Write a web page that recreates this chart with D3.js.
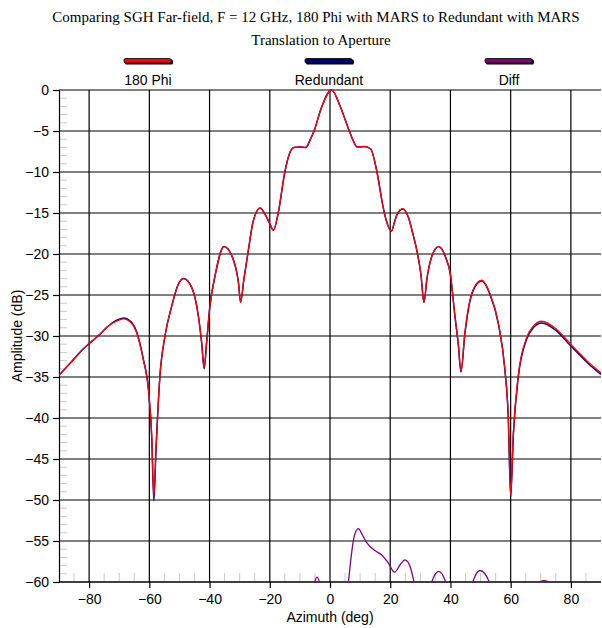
<!DOCTYPE html>
<html>
<head>
<meta charset="utf-8">
<script src="https://cdn.jsdelivr.net/npm/d3@7"></script>
<style>
  body { margin: 0; background: #fff; }
  text { font-family: "Liberation Sans", Arial, sans-serif; }
  .title { font-family: "Liberation Serif", "Times New Roman", serif; }
</style>
</head>
<body>
<div id="vis"></div>
<script>
const svgWidth = 602,
  svgHeight = 628,
  plotLeft = 59,
  plotRight = 601,
  plotTop = 90,
  plotBottom = 582;

// series, [azimuth deg, amplitude dB]
const phi180 = [
  [-90, -34.8], [-86, -33.2], [-82, -31.6], [-78, -30.3], [-76.4, -29.8], [-74, -28.9],
  [-71, -28.2], [-68.6, -27.9], [-66, -28.4], [-64.2, -29.6], [-62, -32.9], [-60.3, -36.5],
  [-59.2, -42.2], [-58.5, -49.6], [-57.8, -43.9], [-56.5, -34.9], [-54.8, -30], [-52.6, -26.4],
  [-50.5, -23.8], [-48.7, -23.0], [-45.9, -24.1], [-43.7, -27.6], [-42.6, -30.9], [-41.8, -33.9],
  [-41, -30.9], [-39.9, -26.4], [-38.2, -22.7], [-35.2, -19.1], [-32.1, -20.7], [-30.4, -23.5],
  [-29.7, -25.9], [-28.6, -23.1], [-27.1, -19.5], [-25.5, -16], [-23.2, -14.4], [-21.5, -15.2],
  [-20, -16.3], [-18.8, -17.1], [-17.2, -15], [-15, -10], [-13.5, -7.8], [-12, -7.0],
  [-10, -6.95], [-8, -7.0], [-6.5, -6.0], [-5.3, -5], [-2.8, -2.1], [0.5, 0],
  [3.5, -2.1], [6.4, -5], [7.5, -6.0], [9, -6.95], [11.5, -6.9], [13.5, -7.2],
  [15.6, -10], [17.5, -14], [18.6, -15.8], [20.4, -17.2], [21.5, -16], [22.5, -15],
  [24.2, -14.5], [26, -15.5], [27.5, -17.5], [28.8, -19.5], [30.2, -22.5], [31.2, -25.9],
  [32.2, -23], [33.8, -20.3], [36.1, -19.1], [38.5, -20.5], [39.9, -22.3], [41.5, -27.6],
  [42.6, -31], [43.5, -34.3], [44.8, -29.6], [46.5, -25.6], [48, -24], [50.4, -23.2],
  [53.1, -24.8], [55.9, -28.4], [58.1, -34.1], [59.2, -39.8], [60, -49.4], [60.9, -41.8],
  [62.5, -34.9], [65.3, -30.2], [67.5, -28.8], [70.3, -28.2], [75.3, -29.2], [79.7, -30.9],
  [85.3, -33], [90, -34.5]
];

const redundant = [
  [-90, -34.8], [-86, -33.2], [-82, -31.6], [-78, -30.3], [-76.4, -29.8], [-74, -28.9],
  [-71, -28.1], [-68.6, -27.8], [-66, -28.3], [-64.2, -29.5], [-62, -32.8], [-60.3, -36.5],
  [-59.2, -42.4], [-58.5, -50.1], [-57.8, -44], [-56.5, -35], [-54.8, -30], [-52.6, -26.4],
  [-50.5, -23.8], [-48.7, -23.0], [-45.9, -24.1], [-43.7, -27.6], [-42.6, -30.9], [-41.8, -34.0],
  [-41, -30.9], [-39.9, -26.4], [-38.2, -22.7], [-35.2, -19.1], [-32.1, -20.7], [-30.4, -23.5],
  [-29.7, -25.9], [-28.6, -23.1], [-27.1, -19.5], [-25.5, -16], [-23.2, -14.4], [-21.5, -15.2],
  [-20, -16.3], [-18.8, -17.1], [-17.2, -15], [-15, -10], [-13.5, -7.8], [-12, -7.0],
  [-10, -6.95], [-8, -7.0], [-6.5, -6.0], [-5.3, -5], [-2.8, -2.1], [0.5, 0],
  [3.5, -2.1], [6.4, -5], [7.5, -6.0], [9, -6.95], [11.5, -6.9], [13.5, -7.2],
  [15.6, -10], [17.5, -14], [18.6, -15.8], [20.4, -17.2], [21.5, -16], [22.5, -15],
  [24.2, -14.5], [26, -15.5], [27.5, -17.5], [28.8, -19.5], [30.2, -22.5], [31.2, -25.9],
  [32.2, -23], [33.8, -20.3], [36.1, -19.1], [38.5, -20.5], [39.9, -22.3], [41.5, -27.6],
  [42.6, -31], [43.5, -34.4], [44.8, -29.7], [46.5, -25.7], [48, -24.1], [50.4, -23.3],
  [53.1, -24.9], [55.9, -28.5], [58.1, -34.2], [59.2, -39.9], [60, -49.6], [60.9, -42],
  [62.5, -35.1], [65.3, -30.4], [67.5, -29.0], [70.3, -28.4], [75.3, -29.4], [79.7, -31.1],
  [85.3, -33.2], [90, -34.7]
];

const diff = [
  [-90, -68], [-40, -66], [-8, -63], [-6.5, -61.5], [-5.4, -60.3], [-4.3, -59.4],
  [-3.2, -60.3], [-2.2, -61.5], [0, -64], [4.5, -63], [6.1, -60], [7, -57],
  [8, -54.5], [9.4, -53.5], [10.8, -54.3], [12.2, -55.2], [15, -56.2], [17.2, -56.7],
  [19.4, -57.7], [21.4, -58.8], [23.3, -57.9], [24.9, -57.3], [26.6, -58.1], [27.9, -60],
  [29, -62], [31, -63], [32.7, -61.5], [33.8, -60], [36.1, -58.7], [38.4, -60],
  [39.5, -61.5], [43, -63], [46.2, -61.5], [47.4, -60], [49.8, -58.6], [52.9, -60],
  [54, -61.5], [60, -63], [68.6, -60.6], [69.7, -60], [71.1, -59.85], [72.5, -60],
  [73.6, -60.6], [80, -63], [90, -65]
];

const xTicks = [-80, -60, -40, -20, 0, 20, 40, 60, 80];
const yTicks = [0, -5, -10, -15, -20, -25, -30, -35, -40, -45, -50, -55, -60];
const xMinor = d3.range(-85, 90, 5).filter((d) => d % 20 !== 0);
const yMinor = d3.range(-59, 0, 1).filter((d) => d % 5 !== 0);

const series = [
  { name: "180 Phi", color: "#ff0000", cx: 148 },
  { name: "Redundant", color: "#000080", cx: 329 },
  { name: "Diff", color: "#800080", cx: 509 },
];

const x = d3.scaleLinear().domain([-90, 90]).range([plotLeft, plotRight]);
const y = d3.scaleLinear().domain([0, -60]).range([plotTop, plotBottom]);

const svg = d3
  .select("#vis")
  .append("svg")
  .attr("width", svgWidth)
  .attr("height", svgHeight);

svg.append("defs")
  .append("clipPath")
  .attr("id", "clip")
  .append("rect")
  .attr("x", plotLeft)
  .attr("y", plotTop - 2)
  .attr("width", plotRight - plotLeft)
  .attr("height", plotBottom - plotTop + 2);

// title
svg.append("text").attr("class", "title")
  .attr("x", 316).attr("y", 22)
  .attr("text-anchor", "middle").attr("font-size", 15)
  .text("Comparing SGH Far-field, F = 12 GHz, 180 Phi with MARS to Redundant with MARS");
svg.append("text").attr("class", "title")
  .attr("x", 321).attr("y", 45)
  .attr("text-anchor", "middle").attr("font-size", 15)
  .text("Translation to Aperture");

// legend
const leg = svg.append("g").selectAll("g").data(series).enter().append("g");
leg.append("rect")
  .attr("x", (d) => d.cx - 23).attr("y", 59.5)
  .attr("width", 48).attr("height", 5).attr("rx", 1.5)
  .attr("fill", "#000");
leg.append("rect")
  .attr("x", (d) => d.cx - 24).attr("y", 58.5)
  .attr("width", 47).attr("height", 4.5).attr("rx", 1.5)
  .attr("fill", (d) => d.color)
  .attr("stroke", "#000").attr("stroke-width", 0.8);
leg.append("text")
  .attr("x", (d) => d.cx).attr("y", 85)
  .attr("text-anchor", "middle").attr("font-size", 14)
  .text((d) => d.name);

// minor ticks
svg.append("g").selectAll("line").data(yMinor).enter().append("line")
  .attr("x1", plotLeft + 1).attr("x2", plotLeft + 8)
  .attr("y1", (d) => y(d)).attr("y2", (d) => y(d))
  .attr("stroke", "#c8c8c8");
svg.append("g").selectAll("line").data(xMinor).enter().append("line")
  .attr("x1", (d) => x(d)).attr("x2", (d) => x(d))
  .attr("y1", plotBottom - 1).attr("y2", plotBottom - 9)
  .attr("stroke", "#c8c8c8");

// grid
svg.append("g").selectAll("line").data(yTicks).enter().append("line")
  .attr("x1", plotLeft).attr("x2", plotRight)
  .attr("y1", (d) => y(d)).attr("y2", (d) => y(d))
  .attr("stroke", "#000").attr("stroke-width", 1.2);
svg.append("g").selectAll("line").data(xTicks).enter().append("line")
  .attr("x1", (d) => x(d)).attr("x2", (d) => x(d))
  .attr("y1", plotTop).attr("y2", plotBottom)
  .attr("stroke", "#000").attr("stroke-width", 1.2);

// axes
const yAxis = svg.append("g")
  .attr("transform", `translate(${plotLeft},0)`)
  .call(d3.axisLeft(y).tickValues(yTicks).tickSize(6).tickPadding(4).tickFormat(d3.format("d")));
const xAxis = svg.append("g")
  .attr("transform", `translate(0,${plotBottom})`)
  .call(d3.axisBottom(x).tickValues(xTicks).tickSize(6).tickPadding(6).tickFormat(d3.format("d")));
[yAxis, xAxis].forEach((a) => {
  a.selectAll("text").attr("font-size", 14).attr("fill", "#000")
    .attr("font-family", '"Liberation Sans", Arial, sans-serif');
  a.selectAll("line").attr("stroke", "#000").attr("stroke-width", 1.2);
  a.select(".domain").attr("stroke", "#000").attr("stroke-width", 1.2);
});
xAxis.select(".domain").remove();
svg.append("line")
  .attr("x1", plotLeft).attr("x2", plotRight)
  .attr("y1", plotBottom).attr("y2", plotBottom)
  .attr("stroke", "#000").attr("stroke-width", 1.2);

svg.append("text")
  .attr("transform", `translate(22,${(plotTop + plotBottom) / 2}) rotate(-90)`)
  .attr("text-anchor", "middle").attr("font-size", 14)
  .text("Amplitude (dB)");
svg.append("text")
  .attr("x", 330).attr("y", 622)
  .attr("text-anchor", "middle").attr("font-size", 14)
  .text("Azimuth (deg)");

// curves
const line = d3.line()
  .x((d) => x(d[0]))
  .y((d) => y(d[1]))
  .curve(d3.curveMonotoneX);

const plot = svg.append("g").attr("clip-path", "url(#clip)");
plot.append("path").datum(diff)
  .attr("d", line).attr("fill", "none")
  .attr("stroke", "#800080").attr("stroke-width", 1.3);
plot.append("path").datum(redundant)
  .attr("d", line).attr("fill", "none")
  .attr("stroke", "#000080").attr("stroke-width", 1.5);
plot.append("path").datum(phi180)
  .attr("d", line).attr("fill", "none")
  .attr("stroke", "#ff0000").attr("stroke-width", 1.3);
</script>
</body>
</html>
